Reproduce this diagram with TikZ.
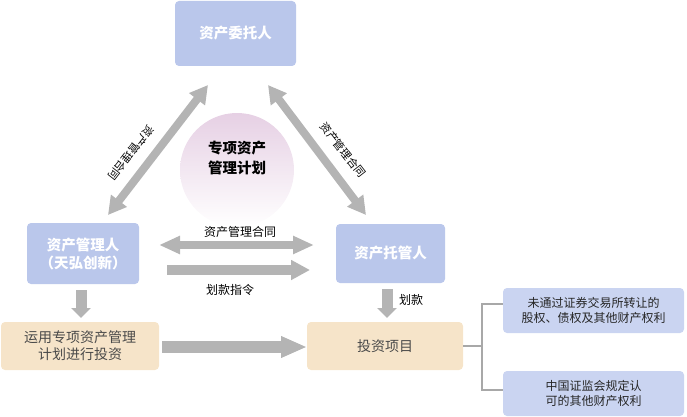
\documentclass[tikz,border=0pt]{standalone}
\usepackage{fontspec}
\setmainfont{Noto Sans CJK SC}
\usetikzlibrary{arrows.meta}
\definecolor{boxblue}{HTML}{BAC7EB}
\definecolor{lightblue}{HTML}{CAD4F1}
\definecolor{beige}{HTML}{F6E4C9}
\definecolor{arrowgray}{HTML}{B4B4B4}
\definecolor{pinkc}{HTML}{E6D0E4}
\definecolor{brkgray}{HTML}{A8A8A8}
\definecolor{darktext}{HTML}{4A4A4A}
\begin{document}
\begin{tikzpicture}[x=1pt,y=-1pt,
  party/.style={fill=boxblue, rounded corners=4pt, text=white, inner sep=0pt, align=center,
    font=\fontsize{14.5}{18}\selectfont\bfseries},
  stage/.style={fill=beige, rounded corners=4pt, text=darktext, inner sep=0pt, align=center,
    font=\fontsize{14}{17}\selectfont},
  kind/.style={fill=lightblue, rounded corners=4pt, text=black!85, inner sep=0pt, align=center,
    font=\fontsize{12}{15}\selectfont},
  lbl/.style={text=black, inner sep=0pt, font=\fontsize{12}{14}\selectfont},
  dlbl/.style={text=black, inner sep=0pt, font=\fontsize{11}{13}\selectfont},
  blk/.style={draw=arrowgray, line width=#1},
  brk/.style={draw=brkgray, line width=1.5pt}
]
\useasboundingbox (0,0) rectangle (687,417);

% circle
\node[circle, minimum size=114pt, inner sep=0pt, top color=pinkc, bottom color=white, draw=none] (plan) at (237,170) {};
\node[inner sep=0pt, align=center, font=\fontsize{14.5}{20}\selectfont\bfseries] (plantext) at (237,158) {专项资产\\管理计划};

% boxes
\node[party, minimum width=121pt, minimum height=65pt] (trustor) at (235.5,33.5) {资产委托人};
\node[party, minimum width=112pt, minimum height=61pt] (mgr) at (83,253.5) {资产管理人\\（天弘创新）};
\node[party, minimum width=109pt, minimum height=59pt] (cust) at (390.5,253.5) {资产托管人};
\node[stage, minimum width=158pt, minimum height=48pt] (use) at (80,346) {运用专项资产管理\\计划进行投资};
\node[stage, minimum width=156pt, minimum height=48pt] (proj) at (385,346) {投资项目};
\node[kind, minimum width=181pt, minimum height=45pt] (r1) at (593.5,310.5) {未通过证券交易所转让的\\股权、债权及其他财产权利};
\node[kind, minimum width=181pt, minimum height=45pt] (r2) at (593.5,393.5) {中国证监会规定认\\可的其他财产权利};

% arrow end points
\coordinate (ld1) at (108,215);
\coordinate (ld2) at (208,85);
\coordinate (rd1) at (268,85);
\coordinate (rd2) at (366,215);
\coordinate (hd1) at (159,245);
\coordinate (hd2) at (314,245);
\coordinate (hs1) at (167,270);
\coordinate (hs2) at (310,270);
\coordinate (md1) at (81,290);
\coordinate (md2) at (81,318);
\coordinate (cd1) at (387,289);
\coordinate (cd2) at (387,318);
\coordinate (bh1) at (162,347);
\coordinate (bh2) at (307,347);

\draw[blk=8pt, {Triangle[width=19pt,length=18pt]}-{Triangle[width=19pt,length=18pt]}] (ld1) -- (ld2);
\draw[blk=8pt, {Triangle[width=19pt,length=18pt]}-{Triangle[width=19pt,length=18pt]}] (rd1) -- (rd2);
\draw[blk=8pt, {Triangle[width=17pt,length=21pt]}-{Triangle[width=17pt,length=21pt]}] (hd1) -- (hd2);
\draw[blk=10pt, -{Triangle[width=19pt,length=19pt]}] (hs1) -- (hs2);
\draw[blk=11pt, -{Triangle[width=19pt,length=10pt]}] (md1) -- (md2);
\draw[blk=11pt, -{Triangle[width=19pt,length=10pt]}] (cd1) -- (cd2);
\draw[blk=12pt, -{Triangle[width=20pt,length=26pt]}] (bh1) -- (bh2);

% labels
\node[lbl] (l1) at (240,232) {资产管理合同};
\node[lbl] (l2) at (230,290) {划款指令};
\node[lbl] (l3) at (411,300) {划款};
\node[dlbl, rotate=-128] (l4) at (131,153) {资产管理合同};
\node[dlbl, rotate=-52] (l5) at (343,150) {资产管理合同};

% bracket
\draw[brk] (proj.east) -- ++(19,0) coordinate (bj);
\draw[brk] ([yshift=6.5pt]r1.west) -| (bj) |- ([yshift=3.5pt]r2.west);
\end{tikzpicture}
\end{document}
